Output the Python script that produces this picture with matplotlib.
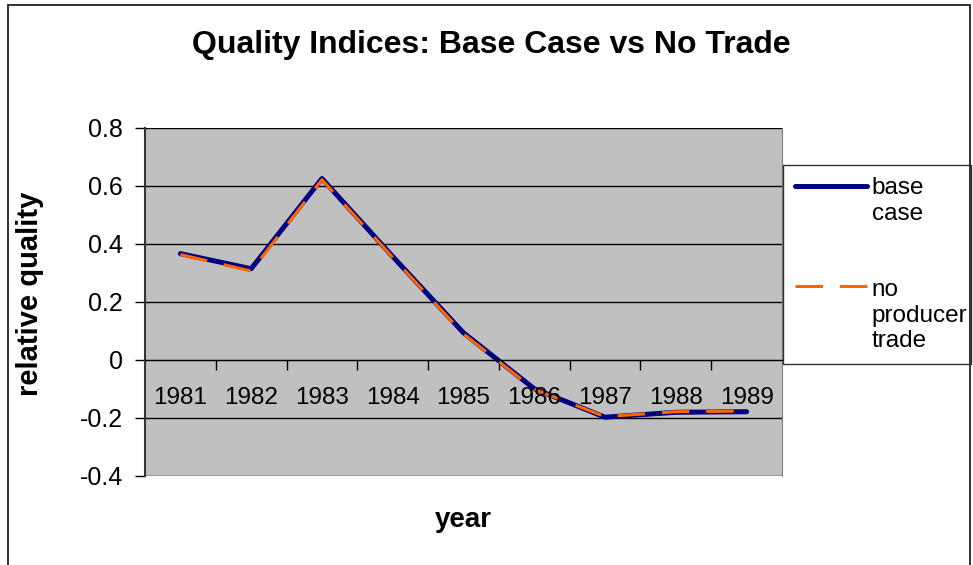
import matplotlib.pyplot as plt
from matplotlib.patches import Rectangle
from matplotlib.legend_handler import HandlerLine2D

plt.rcParams['font.family'] = ['Liberation Sans', 'DejaVu Sans']

years = ['1981', '1982', '1983', '1984', '1985', '1986', '1987', '1988', '1989']
base_case = [0.365, 0.313, 0.624, 0.355, 0.092, -0.101, -0.199, -0.182, -0.180]
no_producer_trade = [0.362, 0.305, 0.620, 0.352, 0.088, -0.103, -0.197, -0.180, -0.178]

W, H = 973, 565
LEG_FS = 17.5


class TopLineHandler(HandlerLine2D):
    # Excel puts the legend key next to the first line of a wrapped label
    def __init__(self, nlines, **kw):
        super().__init__(**kw)
        self.nlines = nlines

    def create_artists(self, legend, orig_handle, xdescent, ydescent,
                       width, height, fontsize, trans):
        artists = super().create_artists(legend, orig_handle, xdescent, ydescent,
                                         width, height, fontsize, trans)
        shift = (self.nlines - 1) / 2 * fontsize * 1.2
        for a in artists:
            a.set_ydata([v + shift for v in a.get_ydata()])
        return artists


fig = plt.figure(figsize=(W / 100, H / 100), dpi=100)

# outer chart border (bottom runs off the picture)
fig.patches.append(Rectangle((8 / W, -0.05), 962 / W, 1 - 5 / H + 0.05,
                             transform=fig.transFigure, fill=False,
                             edgecolor='#222222', linewidth=1.3))

ax = fig.add_axes([145 / W, 1 - 475.5 / H, 637 / W, 348 / H])
ax.set_facecolor('#C0C0C0')

x = list(range(len(years)))
l1, = ax.plot(x, base_case, color='#000080', linewidth=3.6, solid_capstyle='round',
              solid_joinstyle='round', label='base\ncase')
l2, = ax.plot(x, no_producer_trade, color='#FF6600', linewidth=2.2,
              linestyle=(0, (9.0, 5.5)), label='no\nproducer\ntrade')

ax.set_xlim(-0.5, len(years) - 0.5)
ax.set_ylim(-0.4, 0.8)
ax.set_yticks([-0.4, -0.2, 0, 0.2, 0.4, 0.6, 0.8])
ax.set_yticklabels(['-0.4', '-0.2', '0', '0.2', '0.4', '0.6', '0.8'])
ax.yaxis.grid(True, color='black', linewidth=1.0)
ax.set_axisbelow(True)

# category axis sits on y = 0, ticks between categories
ax.spines['bottom'].set_position(('data', 0))
ax.spines['bottom'].set_color('black')
ax.spines['top'].set_visible(False)
ax.spines['right'].set_color('#808080')
ax.spines['left'].set_color('#333333')
ax.spines['left'].set_linewidth(1.5)
ax.set_xticks([i + 0.5 for i in range(len(years) - 1)])
ax.set_xticklabels([])
ax.tick_params(axis='x', direction='out', length=7, width=1, color='black')
ax.tick_params(axis='y', direction='out', length=7, width=1, color='black',
               labelsize=18, pad=9)

for i, yr in enumerate(years):
    ax.annotate(yr, (i, 0), xytext=(0, -28), textcoords='offset pixels',
                ha='center', va='top', fontsize=17.5)

fig.text(491 / W, 1 - 45 / H, 'Quality Indices: Base Case vs No Trade',
         ha='center', va='center', fontsize=23, fontweight='bold')
fig.text(463 / W, 1 - 520 / H, 'year', ha='center', va='center',
         fontsize=20, fontweight='bold')
fig.text(30 / W, 1 - 294 / H, 'relative quality', ha='center', va='center',
         rotation=90, fontsize=21, fontweight='bold')

leg = ax.legend(loc='upper left',
                bbox_to_anchor=(783 / W, 1 - 371 / H, 188 / W, 206 / H),
                bbox_transform=fig.transFigure, mode='expand', borderaxespad=0,
                fontsize=LEG_FS, frameon=True, fancybox=False, handlelength=2.95,
                handletextpad=0.2, labelspacing=2.25, borderpad=0.5,
                handler_map={l1: TopLineHandler(2), l2: TopLineHandler(3)})
leg.get_frame().set_edgecolor('black')
leg.get_frame().set_linewidth(1.0)

fig.savefig('out.png', dpi=100)
